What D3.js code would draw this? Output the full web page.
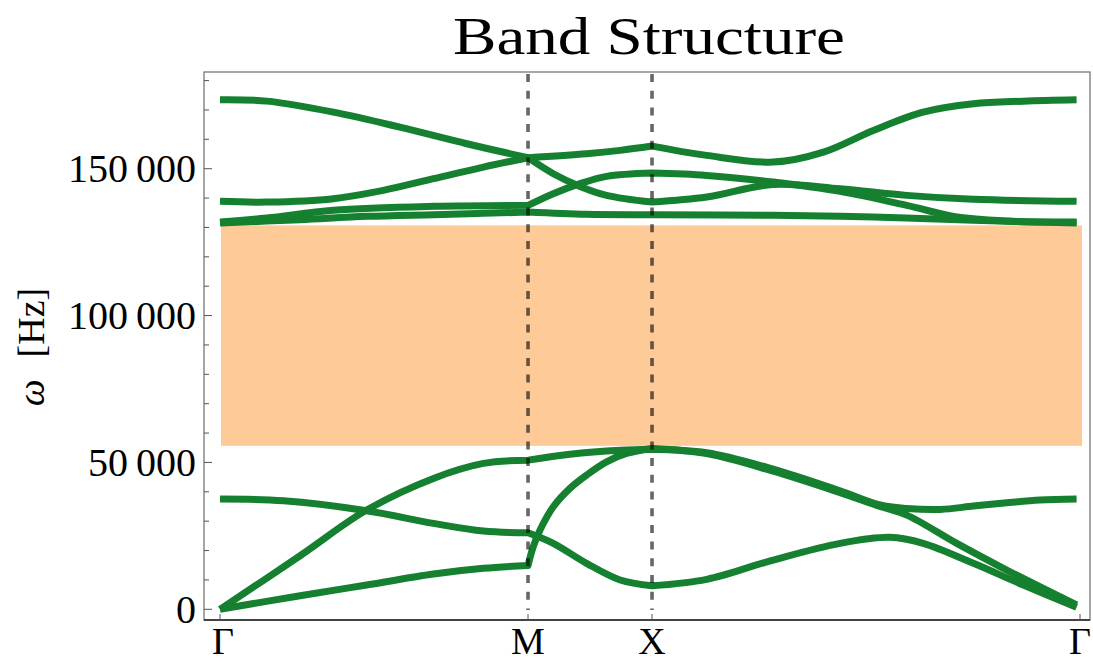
<!DOCTYPE html>
<html>
<head>
<meta charset="utf-8">
<script src="https://cdn.jsdelivr.net/npm/d3@7"></script>
<style>
  html, body { margin: 0; padding: 0; background: #fff; }
  #main { width: 1093px; height: 663px; }
  text { font-family: "Palatino Linotype", "Book Antiqua", Palatino, "Liberation Serif", serif; fill: #000; }
</style>
</head>
<body>
<div id="main"></div>
<script>
'use strict';

// high symmetry points along the path (k in units of |GM|)
var kLabels = ['Γ', 'M', 'X', 'Γ'];
var kTicks = [0, 1, 1.4026, 2.792];
var kBreaks = [1, 1.4026];

// band gap shaded region [Hz]
var gapLow = 55650;
var gapHigh = 130700;

var yTicks = [0, 50000, 100000, 150000];

// bands, [k, omega]
var band1 = [[0, 0], [0.26, 4630], [0.476, 8270], [0.693, 12000], [0.855, 13940], [1, 14900],
  [1.017, 21300], [1.039, 26970], [1.082, 34900], [1.136, 41160], [1.19, 45680], [1.255, 50200], [1.32, 53060], [1.4026, 54760],
  [1.58, 53000], [1.796, 47000], [2.013, 39700], [2.143, 35000], [2.2295, 32070], [2.392, 22450], [2.554, 13370], [2.781, 1460]];
var band2 = [[0, 0], [0.26, 18230], [0.476, 33780], [0.693, 44560], [0.855, 49660], [1, 50780],
  [1.136, 52820], [1.299, 54180], [1.4026, 54500],
  [1.58, 53300], [1.796, 47700], [2.013, 40300], [2.143, 35500], [2.2295, 34350], [2.338, 34010], [2.446, 35140], [2.554, 36260], [2.662, 37180], [2.781, 37520]];
var band3 = [[0, 37520], [0.206, 36940], [0.476, 33540], [0.693, 29250], [0.855, 26630], [1, 26050],
  [1.082, 22450], [1.19, 15650], [1.299, 9970], [1.4026, 8000],
  [1.58, 10200], [1.796, 16770], [2.013, 22450], [2.175, 24490], [2.283, 22450], [2.446, 15650], [2.608, 8270], [2.781, 700]];
var band4 = [[0, 131500], [0.26, 132650], [0.476, 133780], [0.693, 134360], [0.855, 134800], [1, 135240],
  [1.19, 134460], [1.4026, 134360],
  [1.796, 134120], [2.121, 133540], [2.446, 132420], [2.781, 131500]];
var band5 = [[0, 131840], [0.152, 133200], [0.368, 135820], [0.693, 137180], [1, 137520],
  [1.082, 141500], [1.169, 144900], [1.255, 147380], [1.4026, 148510],
  [1.58, 147720], [1.796, 145450], [2.013, 142280], [2.2295, 137520], [2.392, 133540], [2.554, 132180], [2.781, 131840]];
var band6 = [[0, 138880], [0.152, 138640], [0.368, 139800], [0.53, 142620], [0.693, 146600], [0.855, 150550], [1, 153740],
  [1.19, 155100], [1.299, 156240], [1.4026, 157700],
  [1.58, 154530], [1.796, 152250], [1.959, 155650], [2.121, 163030], [2.283, 169260], [2.446, 172110], [2.608, 173000], [2.781, 173470]];
var band7 = [[0, 173470], [0.152, 173000], [0.368, 169260], [0.584, 164150], [0.801, 158500], [1, 153740],
  [1.082, 148300], [1.169, 143980], [1.255, 140920], [1.4026, 138640],
  [1.58, 140340], [1.796, 144660], [2.013, 143190], [2.2295, 140920], [2.446, 139560], [2.781, 138880]];

var bands = [band1, band2, band3, band4, band5, band6, band7];

var width = 1093;
var height = 663;
var frame = { left: 204, right: 1090, top: 72, bottom: 620 };

var svg = d3.select('#main').append('svg')
  .attr('width', width)
  .attr('height', height);

var x = d3.scaleLinear().domain([0, 2.792]).range([220, 1080]);
var y = d3.scaleLinear().domain([0, 150000]).range([609.3, 168.7]);

var green = '#15802f';

// gap
svg.append('rect')
  .attr('x', x(0) + 1)
  .attr('y', y(gapHigh))
  .attr('width', x(2.792) - x(0) + 1)
  .attr('height', y(gapLow) - y(gapHigh))
  .attr('fill', '#fdca98');

// each segment between symmetry points is interpolated on its own, then joined
var line = d3.line()
  .x(function(d) { return x(d[0]); })
  .y(function(d) { return y(d[1]); })
  .curve(d3.curveCatmullRom.alpha(0.5));

function bandPath(b) {
  var cuts = [0].concat(kBreaks).concat([10]);
  var path = '';
  for (var i = 0; i < cuts.length - 1; i++) {
    var seg = b.filter(function(d) { return d[0] >= cuts[i] - 1e-6 && d[0] <= cuts[i + 1] + 1e-6; });
    var p = line(seg);
    if (i > 0) p = 'L' + p.slice(1);
    path += p;
  }
  return path;
}

svg.append('g').attr('class', 'bands')
  .selectAll('path')
  .data(bands).enter()
  .append('path')
  .attr('d', bandPath)
  .attr('fill', 'none')
  .attr('stroke', green)
  .attr('stroke-width', 7)
  .attr('stroke-linejoin', 'round');

// dashed lines at M and X
svg.append('g')
  .selectAll('line')
  .data(kBreaks).enter()
  .append('line')
  .attr('x1', function(d) { return x(d); })
  .attr('x2', function(d) { return x(d); })
  .attr('y1', frame.top)
  .attr('y2', 610)
  .attr('stroke', '#000')
  .attr('stroke-opacity', 0.6)
  .attr('stroke-width', 3.6)
  .attr('stroke-dasharray', '8,8.7')
  .attr('stroke-dashoffset', -2);

// frame
svg.append('rect')
  .attr('x', frame.left)
  .attr('y', frame.top)
  .attr('width', frame.right - frame.left)
  .attr('height', frame.bottom - frame.top)
  .attr('fill', 'none')
  .attr('stroke', '#777')
  .attr('stroke-width', 1.3);
svg.append('line')
  .attr('x1', frame.left).attr('x2', frame.right)
  .attr('y1', frame.bottom).attr('y2', frame.bottom)
  .attr('stroke', '#222')
  .attr('stroke-width', 1.4);

// y ticks, drawn inward
var minor = d3.range(0, 180001, 10000);
svg.append('g')
  .selectAll('line')
  .data(minor).enter()
  .append('line')
  .attr('x1', frame.left)
  .attr('x2', function(d) { return frame.left + (d % 50000 === 0 ? 8 : 5); })
  .attr('y1', function(d) { return y(d); })
  .attr('y2', function(d) { return y(d); })
  .attr('stroke', '#555')
  .attr('stroke-width', 1);

var loc = d3.formatLocale({ decimal: '.', thousands: '\u2009', grouping: [3], currency: ['', ''] });
var fmt = loc.format(',');

svg.append('g')
  .selectAll('text')
  .data(yTicks).enter()
  .append('text')
  .attr('x', 196)
  .attr('y', function(d) { return y(d); })
  .attr('dy', '0.33em')
  .attr('text-anchor', 'end')
  .style('font-size', '40px')
  .text(function(d) { return fmt(d); });

// x ticks
svg.append('g')
  .selectAll('line')
  .data(kTicks).enter()
  .append('line')
  .attr('x1', function(d) { return x(d); })
  .attr('x2', function(d) { return x(d); })
  .attr('y1', frame.bottom)
  .attr('y2', frame.bottom - 6)
  .attr('stroke', '#555')
  .attr('stroke-width', 1);

svg.append('g')
  .selectAll('text')
  .data(kTicks).enter()
  .append('text')
  .attr('x', function(d, i) { return x(d) + (i === 0 ? 3 : 0); })
  .attr('y', 654)
  .attr('text-anchor', 'middle')
  .style('font-size', '38px')
  .text(function(d, i) { return kLabels[i]; });

// y label
var yl = svg.append('text')
  .attr('transform', 'translate(44,347) rotate(-90)')
  .attr('text-anchor', 'middle')
  .style('font-size', '38px');
yl.append('tspan').style('font-style', 'italic').text('ω');
yl.append('tspan').attr('dx', 22).text('[Hz]');

// title
svg.append('text')
  .attr('x', 649)
  .attr('y', 54)
  .attr('text-anchor', 'middle')
  .attr('textLength', 392)
  .attr('lengthAdjust', 'spacingAndGlyphs')
  .style('font-size', '53px')
  .text('Band Structure');
</script>
</body>
</html>
